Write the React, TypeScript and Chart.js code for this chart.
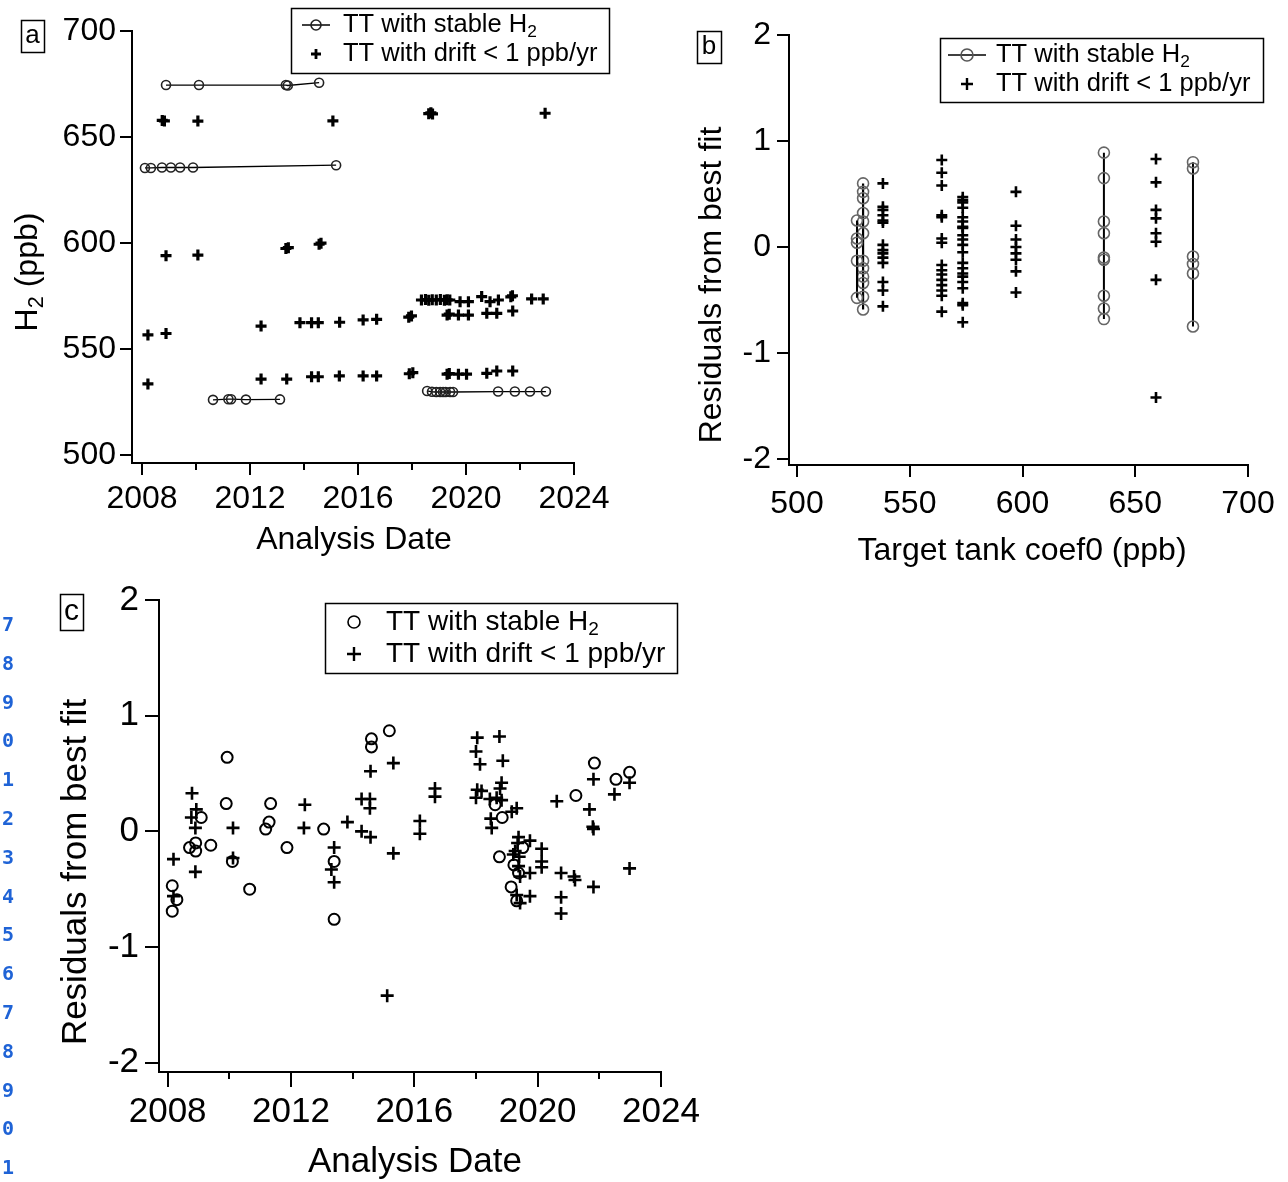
import React, { useEffect, useRef } from "react";
import { Chart, registerables } from "chart.js";
Chart.register(...registerables);

const FONT = '"Liberation Sans", Arial, Helvetica, sans-serif';

// ---------------- Panel a: H2 (ppb) vs analysis date ----------------
const aStable675Year = [2008.89, 2010.11, 2013.33, 2013.4, 2014.56];
const aStable675H2 = [674.5, 674.5, 674.5, 674.3, 675.6];
const aStable636Year = [2008.11, 2008.33, 2008.74, 2009.07, 2009.41, 2009.89, 2015.19];
const aStable636H2 = [635.4, 635.4, 635.6, 635.6, 635.6, 635.6, 636.7];
const aStable526Year = [2010.63, 2011.2, 2011.3, 2011.85, 2013.11];
const aStable526H2 = [526.0, 526.3, 526.3, 526.1, 526.2];
const aStable530Year = [2018.56, 2018.74, 2018.9, 2019.04, 2019.15, 2019.25, 2019.41, 2019.52, 2021.19, 2021.81, 2022.37, 2022.96];
const aStable530H2 = [530.2, 529.8, 529.7, 529.7, 529.7, 529.7, 529.7, 529.7, 529.9, 529.9, 529.9, 529.9];
const aDriftYear = [
  2008.75, 2008.83, 2010.07, 2015.07,
  2018.62, 2018.7, 2018.76, 2022.93,
  2008.89, 2010.07, 2013.33, 2013.42, 2014.56, 2014.63,
  2008.22, 2008.89, 2008.22,
  2012.41, 2013.85, 2014.28, 2014.53, 2015.32, 2016.19, 2016.69,
  2012.41, 2013.36, 2014.28, 2014.53, 2015.31, 2016.19, 2016.69,
  2017.88, 2017.98, 2017.9, 2018.03,
  2018.35, 2018.5, 2018.62, 2018.75, 2018.9, 2019.05, 2019.2, 2019.3, 2019.4,
  2019.78, 2020.09, 2020.58, 2020.89, 2021.2, 2021.66, 2021.72, 2022.43, 2022.86,
  2019.3, 2019.38, 2019.72, 2020.09, 2020.77, 2021.14, 2021.73,
  2019.3, 2019.38, 2019.72, 2020.02, 2020.77, 2021.14, 2021.73,
];
const aDriftH2 = [
  657.8, 657.6, 657.5, 657.6,
  661.0, 661.4, 660.9, 661.2,
  594.0, 594.3, 597.4, 597.8, 599.4, 599.9,
  556.6, 557.3, 533.5,
  560.8, 562.4, 562.4, 562.4, 562.6, 563.7, 564.0,
  535.8, 535.8, 536.9, 536.9, 537.3, 537.3, 537.3,
  565.0, 565.6, 538.3, 538.8,
  573.1, 573.3, 573.0, 573.2, 573.1, 573.3, 573.0, 573.2, 573.1,
  572.3, 572.3, 574.7, 572.3, 573.1, 574.6, 575.1, 573.6, 573.6,
  566.0, 566.4, 566.0, 566.0, 566.8, 566.8, 567.9,
  538.1, 538.4, 538.1, 538.1, 538.5, 539.6, 539.6,
];
const aYearTicks = [2008, 2012, 2016, 2020, 2024];
const aYearMinor = [2010, 2014, 2018, 2022];
const aH2Ticks = [500, 550, 600, 650, 700];

// ---------------- Panel b: residuals vs target tank coef0 ----------------
const bStableCoef0 = [526.6, 529.3, 636.1, 675.6];
const bStableRes526 = [0.25, 0.08, 0.04, -0.13, -0.48];
const bStableRes529 = [0.6, 0.52, 0.46, 0.32, 0.24, 0.13, -0.13, -0.2, -0.28, -0.34, -0.47, -0.59];
const bStableRes636 = [0.89, 0.65, 0.24, 0.13, -0.1, -0.12, -0.46, -0.58, -0.68];
const bStableRes675 = [0.8, 0.74, -0.09, -0.16, -0.25, -0.75];
const bDriftCoef0 = [538.1, 564.2, 573.5, 597.1, 659.2];
const bDriftRes538 = [0.6, 0.38, 0.35, 0.3, 0.25, 0.23, 0.02, -0.03, -0.06, -0.1, -0.15, -0.33, -0.41, -0.56];
const bDriftRes564 = [0.82, 0.7, 0.58, 0.3, 0.28, 0.08, 0.04, -0.17, -0.22, -0.26, -0.31, -0.36, -0.41, -0.46, -0.61];
const bDriftRes573 = [0.47, 0.44, 0.42, 0.37, 0.28, 0.24, 0.19, 0.18, 0.11, 0.07, 0.02, -0.05, -0.15, -0.2, -0.25, -0.28, -0.33, -0.39, -0.53, -0.55, -0.71];
const bDriftRes597 = [0.52, 0.2, 0.07, 0.0, -0.06, -0.12, -0.23, -0.43];
const bDriftRes659 = [0.83, 0.61, 0.35, 0.27, 0.13, 0.05, -0.31, -1.42];
const bCoefTicks = [500, 550, 600, 650, 700];
const bResTicks = [-2, -1, 0, 1, 2];

// ---------------- Panel c: residuals vs analysis date ----------------
const cStableYear = [2008.15, 2008.3, 2008.15, 2008.71, 2008.91, 2008.91, 2009.09, 2009.4, 2009.93, 2009.9, 2010.1, 2010.66, 2011.18, 2011.29, 2011.34, 2011.87, 2013.06, 2013.4, 2013.4, 2014.61, 2014.61, 2015.19, 2018.62, 2018.85, 2018.76, 2019.52, 2019.23, 2019.38, 2019.14, 2019.32, 2021.84, 2021.24, 2022.54, 2022.98];
const cStableRes = [-0.47, -0.59, -0.69, -0.14, -0.1, -0.17, 0.12, -0.12, 0.64, 0.24, -0.26, -0.5, 0.02, 0.08, 0.24, -0.14, 0.02, -0.26, -0.76, 0.8, 0.73, 0.87, 0.23, 0.12, -0.22, -0.14, -0.29, -0.36, -0.48, -0.6, 0.59, 0.31, 0.45, 0.51];
const cDriftYear = [
  2008.19, 2008.19, 2008.79, 2008.93, 2008.77, 2008.9, 2008.9, 2010.12, 2010.12, 2012.45, 2012.42, 2013.4, 2013.31, 2013.4, 2013.83, 2014.29, 2014.29, 2014.56, 2014.56, 2014.58, 2014.58, 2015.32, 2015.32, 2015.12,
  2016.67, 2016.67, 2016.18, 2016.18, 2018.04, 2018.76, 2018.0, 2018.13, 2018.87, 2018.04, 2018.0, 2018.18, 2018.45, 2018.67, 2018.83, 2018.78, 2018.83, 2018.48, 2018.51,
  2019.16, 2019.32, 2019.38, 2019.75, 2019.27, 2019.21, 2020.13, 2020.13, 2020.13, 2019.38, 2019.43, 2019.75, 2019.32, 2019.75, 2019.43, 2019.35, 2019.4,
  2020.62, 2020.76, 2020.76, 2020.76, 2021.21, 2021.18, 2021.68, 2021.81, 2021.79, 2021.81, 2021.81, 2022.49, 2022.98, 2022.98,
];
const cDriftRes = [
  -0.24, -0.56, 0.33, 0.19, 0.12, 0.03, -0.35, 0.03, -0.23, 0.23, 0.03, -0.14, -0.33, -0.44, 0.08, 0.28, 0.0, 0.28, 0.2, 0.52, -0.05, 0.59, -0.19, -1.42,
  0.37, 0.3, 0.09, -0.02, 0.81, 0.82, 0.69, 0.58, 0.61, 0.36, 0.29, 0.35, 0.28, 0.29, 0.42, 0.37, 0.27, 0.11, 0.03,
  0.17, 0.2, -0.05, -0.08, -0.17, -0.2, -0.15, -0.26, -0.31, -0.3, -0.39, -0.36, -0.55, -0.56, -0.62, -0.1, -0.22,
  0.26, -0.36, -0.57, -0.71, -0.42, -0.39, 0.19, 0.45, 0.04, 0.02, -0.48, 0.32, 0.42, -0.32,
];
const cYearTicks = [2008, 2012, 2016, 2020, 2024];
const cYearMinor = [2010, 2014, 2018, 2022];
const cResTicks = [-2, -1, 0, 1, 2];

const lineNumbers = ["7", "8", "9", "0", "1", "2", "3", "4", "5", "6", "7", "8", "9", "0", "1"];

// ---------------- helpers ----------------
type Part = { t: string; sub?: boolean };
const pts = (xs: number[], ys: number[]) => xs.map((x, i) => ({ x, y: ys[i] }));
const col = (x: number, ys: number[]) => ys.map((y) => ({ x, y }));

function drawRich(ctx: CanvasRenderingContext2D, parts: Part[], x: number, y: number, size: number, rot: number, align: "center" | "left") {
  ctx.save();
  ctx.translate(x, y);
  if (rot) ctx.rotate(rot);
  ctx.textBaseline = "middle";
  ctx.textAlign = "left";
  let w = 0;
  for (const p of parts) {
    ctx.font = `${p.sub ? size * 0.68 : size}px ${FONT}`;
    w += ctx.measureText(p.t).width;
  }
  let cx = align === "center" ? -w / 2 : 0;
  for (const p of parts) {
    const s = p.sub ? size * 0.68 : size;
    ctx.font = `${s}px ${FONT}`;
    ctx.fillText(p.t, cx, p.sub ? size * 0.27 : 0);
    cx += ctx.measureText(p.t).width;
  }
  ctx.restore();
}

interface LegendRow { y: number; marker: "circleLine" | "circle" | "cross"; parts: Part[] }
interface PanelSpec {
  cl: number; ct: number; cw: number; ch: number;
  area: { l: number; t: number; r: number; b: number };
  x: { min: number; max: number; ticks: number[]; minor: number[]; tickLen: number; minorLen: number; font: number; pad: number };
  y: { min: number; max: number; ticks: number[]; tickLen: number; font: number; pad: number };
  datasets: any[];
  label: { text: string; x1: number; y1: number; x2: number; y2: number; size: number };
  legend: { box: [number, number, number, number]; size: number; markerX: number; textX: number; lineHalf: number; circleR: number; circleColor: string; crossR: number; crossW: number; rows: LegendRow[] };
  xTitle: { parts: Part[]; x: number; y: number; size: number };
  yTitle: { parts: Part[]; x: number; y: number; size: number };
}

function decorPlugin(spec: PanelSpec) {
  return {
    id: "decor",
    afterDraw(chart: any) {
      const ctx = chart.ctx as CanvasRenderingContext2D;
      const ox = spec.cl, oy = spec.ct;
      ctx.save();
      ctx.strokeStyle = "#000";
      ctx.fillStyle = "#000";
      // minor ticks
      const xs = chart.scales.x;
      const bottom = chart.chartArea.bottom;
      ctx.lineWidth = 2;
      for (const v of spec.x.minor) {
        const px = Math.round(xs.getPixelForValue(v));
        ctx.beginPath();
        ctx.moveTo(px, bottom);
        ctx.lineTo(px, bottom + spec.x.minorLen);
        ctx.stroke();
      }
      // panel label
      const L = spec.label;
      ctx.lineWidth = 1.5;
      ctx.strokeRect(L.x1 - ox + 0.5, L.y1 - oy + 0.5, L.x2 - L.x1, L.y2 - L.y1);
      ctx.font = `${L.size}px ${FONT}`;
      ctx.textAlign = "center";
      ctx.textBaseline = "middle";
      ctx.fillText(L.text, (L.x1 + L.x2) / 2 - ox, (L.y1 + L.y2) / 2 - oy);
      // legend
      const G = spec.legend;
      ctx.lineWidth = 1.5;
      ctx.strokeRect(G.box[0] - ox + 0.5, G.box[1] - oy + 0.5, G.box[2] - G.box[0], G.box[3] - G.box[1]);
      for (const row of G.rows) {
        const mx = G.markerX - ox, my = row.y - oy;
        if (row.marker === "circleLine" || row.marker === "circle") {
          if (row.marker === "circleLine") {
            ctx.strokeStyle = "#000";
            ctx.lineWidth = 1.5;
            ctx.beginPath();
            ctx.moveTo(mx - G.lineHalf, my);
            ctx.lineTo(mx + G.lineHalf, my);
            ctx.stroke();
          }
          ctx.strokeStyle = G.circleColor;
          ctx.lineWidth = 1.6;
          ctx.beginPath();
          ctx.arc(mx, my, G.circleR, 0, Math.PI * 2);
          ctx.stroke();
        } else {
          ctx.strokeStyle = "#000";
          ctx.lineWidth = G.crossW;
          ctx.beginPath();
          ctx.moveTo(mx - G.crossR, my);
          ctx.lineTo(mx + G.crossR, my);
          ctx.moveTo(mx, my - G.crossR);
          ctx.lineTo(mx, my + G.crossR);
          ctx.stroke();
        }
        drawRich(ctx, row.parts, G.textX - ox, my, G.size, 0, "left");
      }
      // axis titles
      ctx.fillStyle = "#000";
      drawRich(ctx, spec.xTitle.parts, spec.xTitle.x - ox, spec.xTitle.y - oy, spec.xTitle.size, 0, "center");
      drawRich(ctx, spec.yTitle.parts, spec.yTitle.x - ox, spec.yTitle.y - oy, spec.yTitle.size, -Math.PI / 2, "center");
      ctx.restore();
    },
  };
}

function buildConfig(spec: PanelSpec): any {
  const { cl, ct, cw, ch, area } = spec;
  return {
    type: "scatter",
    data: { datasets: spec.datasets },
    options: {
      responsive: false,
      animation: false,
      events: [],
      layout: { padding: { left: 0, top: area.t - ct, right: cl + cw - area.r, bottom: 0 } },
      plugins: { legend: { display: false }, tooltip: { enabled: false }, title: { display: false } },
      scales: {
        x: {
          type: "linear",
          min: spec.x.min,
          max: spec.x.max,
          afterBuildTicks: (s: any) => { s.ticks = spec.x.ticks.map((v) => ({ value: v })); },
          afterFit: (s: any) => { s.height = ct + ch - area.b; },
          grid: { display: true, drawOnChartArea: false, drawTicks: true, tickLength: spec.x.tickLen, color: "#000", lineWidth: 2 },
          border: { display: true, color: "#000", width: 2 },
          ticks: { font: { family: FONT, size: spec.x.font }, color: "#000", padding: spec.x.pad, maxRotation: 0, autoSkip: false, callback: (v: any) => String(v) },
        },
        y: {
          type: "linear",
          min: spec.y.min,
          max: spec.y.max,
          afterBuildTicks: (s: any) => { s.ticks = spec.y.ticks.map((v) => ({ value: v })); },
          afterFit: (s: any) => { s.width = area.l - cl; },
          grid: { display: true, drawOnChartArea: false, drawTicks: true, tickLength: spec.y.tickLen, color: "#000", lineWidth: 2 },
          border: { display: true, color: "#000", width: 2 },
          ticks: { font: { family: FONT, size: spec.y.font }, color: "#000", padding: spec.y.pad, autoSkip: false, callback: (v: any) => String(v) },
        },
      },
    },
    plugins: [decorPlugin(spec)],
  };
}

const stableLine = (data: any[], r: number, color: string, lw: number) => ({
  data,
  showLine: true,
  borderColor: "#000",
  borderWidth: lw,
  pointStyle: "circle",
  pointRadius: r,
  pointBorderWidth: 1.6,
  pointBorderColor: color,
  pointBackgroundColor: "rgba(0,0,0,0)",
});
const crosses = (data: any[], r: number, w: number) => ({
  data,
  showLine: false,
  pointStyle: "cross",
  pointRadius: r,
  pointBorderWidth: w,
  pointBorderColor: "#000",
  pointBackgroundColor: "#000",
});
const circles = (data: any[], r: number, w: number) => ({
  data,
  showLine: false,
  pointStyle: "circle",
  pointRadius: r,
  pointBorderWidth: w,
  pointBorderColor: "#000",
  pointBackgroundColor: "rgba(0,0,0,0)",
});

const H2Parts: Part[] = [{ t: "TT with stable H" }, { t: "2", sub: true }];
const driftParts: Part[] = [{ t: "TT with drift < 1 ppb/yr" }];

const specA: PanelSpec = {
  cl: 0, ct: 0, cw: 650, ch: 575,
  area: { l: 132, t: 31, r: 574, b: 463 },
  x: { min: 2007.63, max: 2024, ticks: aYearTicks, minor: aYearMinor, tickLen: 12, minorLen: 7, font: 32, pad: 5 },
  y: { min: 496.2, max: 700, ticks: aH2Ticks, tickLen: 12, font: 32, pad: 4 },
  datasets: [
    stableLine(pts(aStable675Year, aStable675H2), 4.5, "#222", 1.3),
    stableLine(pts(aStable636Year, aStable636H2), 4.5, "#222", 1.3),
    stableLine(pts(aStable526Year, aStable526H2), 4.5, "#222", 1.3),
    stableLine(pts(aStable530Year, aStable530H2), 4.5, "#222", 1.3),
    crosses(pts(aDriftYear, aDriftH2), 5.5, 3.2),
  ],
  label: { text: "a", x1: 21, y1: 20, x2: 44, y2: 52, size: 26 },
  legend: {
    box: [291, 8, 609, 73], size: 25.5, markerX: 316, textX: 343, lineHalf: 14, circleR: 5, circleColor: "#222", crossR: 5, crossW: 2.8,
    rows: [
      { y: 25, marker: "circleLine", parts: H2Parts },
      { y: 54, marker: "cross", parts: driftParts },
    ],
  },
  xTitle: { parts: [{ t: "Analysis Date" }], x: 354, y: 540, size: 32 },
  yTitle: { parts: [{ t: "H" }, { t: "2", sub: true }, { t: " (ppb)" }], x: 28, y: 272, size: 32 },
};

const specB: PanelSpec = {
  cl: 680, ct: 0, cw: 608, ch: 580,
  area: { l: 789, t: 35, r: 1248, b: 465 },
  x: { min: 496.45, max: 700, ticks: bCoefTicks, minor: [], tickLen: 12, minorLen: 7, font: 32, pad: 8 },
  y: { min: -2.057, max: 2, ticks: bResTicks, tickLen: 12, font: 32, pad: 6 },
  datasets: [
    stableLine(col(bStableCoef0[0], bStableRes526), 5.5, "#666", 2),
    stableLine(col(bStableCoef0[1], bStableRes529), 5.5, "#666", 2.2),
    stableLine(col(bStableCoef0[2], bStableRes636), 5.5, "#666", 2),
    stableLine(col(bStableCoef0[3], bStableRes675), 5.5, "#666", 2),
    crosses(col(bDriftCoef0[0], bDriftRes538), 5.5, 2.6),
    crosses(col(bDriftCoef0[1], bDriftRes564), 5.5, 2.6),
    crosses(col(bDriftCoef0[2], bDriftRes573), 5.5, 2.6),
    crosses(col(bDriftCoef0[3], bDriftRes597), 5.5, 2.6),
    crosses(col(bDriftCoef0[4], bDriftRes659), 5.5, 2.6),
  ],
  label: { text: "b", x1: 697, y1: 31, x2: 721, y2: 63, size: 26 },
  legend: {
    box: [940, 38, 1263, 102], size: 25.5, markerX: 967, textX: 996, lineHalf: 19, circleR: 6, circleColor: "#555", crossR: 6, crossW: 2.4,
    rows: [
      { y: 55, marker: "circleLine", parts: H2Parts },
      { y: 84, marker: "cross", parts: driftParts },
    ],
  },
  xTitle: { parts: [{ t: "Target tank coef0 (ppb)" }], x: 1022, y: 551, size: 32 },
  yTitle: { parts: [{ t: "Residuals from best fit" }], x: 712, y: 285, size: 32 },
};

const specC: PanelSpec = {
  cl: 0, ct: 560, cw: 720, ch: 622,
  area: { l: 159, t: 600, r: 661, b: 1072 },
  x: { min: 2007.72, max: 2024, ticks: cYearTicks, minor: cYearMinor, tickLen: 15, minorLen: 7, font: 35, pad: 4 },
  y: { min: -2.08, max: 2, ticks: cResTicks, tickLen: 14, font: 35, pad: 6 },
  datasets: [
    circles(pts(cStableYear, cStableRes), 5.5, 2),
    crosses(pts(cDriftYear, cDriftRes), 6.5, 2.6),
  ],
  label: { text: "c", x1: 60, y1: 594, x2: 83, y2: 630, size: 30 },
  legend: {
    box: [325, 603, 677, 673], size: 28, markerX: 354, textX: 386, lineHalf: 0, circleR: 6, circleColor: "#000", crossR: 7, crossW: 2.4,
    rows: [
      { y: 622, marker: "circle", parts: H2Parts },
      { y: 654, marker: "cross", parts: driftParts },
    ],
  },
  xTitle: { parts: [{ t: "Analysis Date" }], x: 415, y: 1162, size: 35 },
  yTitle: { parts: [{ t: "Residuals from best fit" }], x: 76, y: 872, size: 35 },
};

function Panel({ spec }: { spec: PanelSpec }) {
  const ref = useRef<HTMLCanvasElement>(null);
  useEffect(() => {
    const chart = new Chart(ref.current as HTMLCanvasElement, buildConfig(spec));
    return () => chart.destroy();
  }, [spec]);
  return (
    <canvas
      ref={ref}
      width={spec.cw}
      height={spec.ch}
      style={{ position: "absolute", left: spec.cl, top: spec.ct, width: spec.cw, height: spec.ch }}
    />
  );
}

export default function App() {
  return (
    <div style={{ position: "absolute", left: 0, top: 0, width: 1288, height: 1182, background: "#fff", overflow: "hidden" }}>
      <Panel spec={specA} />
      <Panel spec={specB} />
      <Panel spec={specC} />
      {lineNumbers.map((n, i) => (
        <div
          key={i}
          style={{
            position: "absolute",
            left: 0,
            width: 16,
            textAlign: "center",
            top: 624 + i * 38.8 - 12,
            height: 24,
            lineHeight: "24px",
            fontFamily: '"DejaVu Sans Mono", "Liberation Mono", monospace',
            fontWeight: "bold",
            fontSize: 20,
            color: "#1f63d6",
          }}
        >
          {n}
        </div>
      ))}
    </div>
  );
}
